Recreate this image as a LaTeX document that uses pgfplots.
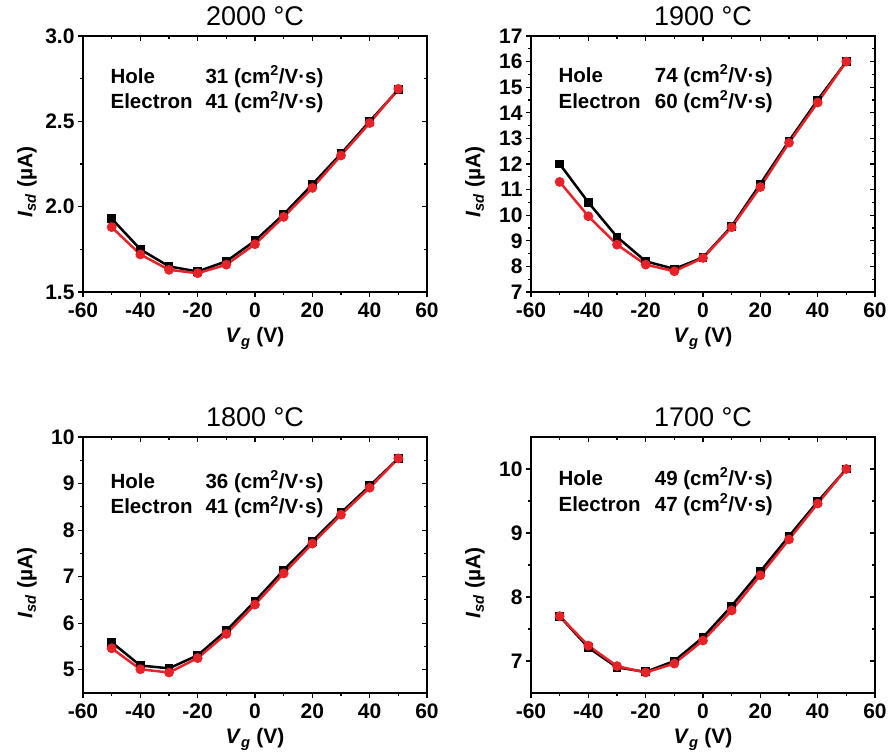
\documentclass[border=0pt]{standalone}
\usepackage{fontspec}
\setmainfont{Liberation Sans}
\usepackage{pgfplots}
\pgfplotsset{compat=1.18}
\definecolor{myred}{RGB}{230,35,40}
\pgfplotsset{
 common/.style={scale only axis, width=344bp, height=256bp, xmin=-60, xmax=60,
   xtick={-60,-40,...,60}, minor x tick num=1, minor y tick num=1,
   major tick length=5bp, minor tick length=2.6bp,
   tick style={black, line width=1.1bp}, axis line style={line width=1.3bp}},
 mainax/.style={common, tick align=outside, xtick pos=left, ytick pos=left,
   ticklabel style={font=\fontsize{21bp}{25bp}\selectfont\bfseries},
   xticklabel style={inner xsep=0pt, yshift=-2bp},
   /pgf/number format/assume math mode=true,
   xlabel={\textit{V}\textsubscript{\textit{g}} (V)},
   ylabel={\textit{I}\textsubscript{\textit{sd}} (µA)},
   label style={font=\fontsize{21bp}{25bp}\selectfont\bfseries},
   xlabel style={at={(axis description cs:0.5,-0.199)}, anchor=base},
   ylabel style={at={(axis description cs:-0.163,0.43)}, anchor=center},
   title style={at={(axis description cs:0.5,1.016)}, anchor=base, font=\fontsize{27bp}{31bp}\selectfont}},
 mirrorax/.style={common, tick align=inside, xtick pos=right, ytick pos=right,
   xticklabels={}, yticklabels={}, axis line style={draw=none}},
 blk/.style={black, line width=2.5bp, mark=square*, mark size=3.2bp, mark options={solid}},
 rd/.style={myred, line width=2.5bp, mark=*, mark size=3.6bp, mark options={solid}},
 pA/.style={ymin=1.5, ymax=3.0, ytick={1.5,2.0,2.5,3.0},
   yticklabel style={/pgf/number format/.cd, fixed, fixed zerofill, precision=1}},
 pB/.style={ymin=7, ymax=17, ytick={7,8,...,17}},
 pC/.style={ymin=4.5, ymax=10, ytick={5,6,...,10}},
 pD/.style={ymin=6.5, ymax=10.5, ytick={7,8,9,10}},
}
\newcommand{\inset}[5]{%
 \node[anchor=base west, font=\fontsize{20.5bp}{24bp}\selectfont\bfseries] at (rel axis cs:0.07,#1) {Hole};
 \node[anchor=base west, font=\fontsize{20.5bp}{24bp}\selectfont\bfseries] at (rel axis cs:#5,#1) {#3 (cm\textsuperscript{2}/V·s)};
 \node[anchor=base west, font=\fontsize{20.5bp}{24bp}\selectfont\bfseries] at (rel axis cs:0.07,#2) {Electron};
 \node[anchor=base west, font=\fontsize{20.5bp}{24bp}\selectfont\bfseries] at (rel axis cs:#5,#2) {#4 (cm\textsuperscript{2}/V·s)};
}
\begin{document}
\begin{tikzpicture}
\path[use as bounding box] (0,0) rectangle (890bp,756bp);
% Panel 1: 2000 C
\begin{axis}[mainax, pA, at={(83bp,464bp)}, anchor=south west, title={2000 °C}]
\addplot[blk] coordinates {(-50,1.93) (-40,1.75) (-30,1.65) (-20,1.62) (-10,1.68) (0,1.80) (10,1.955) (20,2.13) (30,2.31) (40,2.50) (50,2.685)};
\addplot[rd] coordinates {(-50,1.88) (-40,1.72) (-30,1.63) (-20,1.61) (-10,1.66) (0,1.78) (10,1.94) (20,2.11) (30,2.30) (40,2.49) (50,2.69)};
\inset{0.816}{0.715}{31}{41}{0.346}
\end{axis}
\begin{axis}[mirrorax, pA, at={(83bp,464bp)}, anchor=south west]
\end{axis}
% Panel 2: 1900 C
\begin{axis}[mainax, pB, at={(531bp,464bp)}, anchor=south west, title={1900 °C}]
\addplot[blk] coordinates {(-50,12.0) (-40,10.5) (-30,9.15) (-20,8.2) (-10,7.9) (0,8.35) (10,9.57) (20,11.22) (30,12.9) (40,14.5) (50,16.0)};
\addplot[rd] coordinates {(-50,11.3) (-40,9.96) (-30,8.85) (-20,8.07) (-10,7.81) (0,8.33) (10,9.53) (20,11.1) (30,12.83) (40,14.4) (50,16.0)};
\inset{0.82}{0.718}{74}{60}{0.35}
\end{axis}
\begin{axis}[mirrorax, pB, at={(531bp,464bp)}, anchor=south west]
\end{axis}
% Panel 3: 1800 C
\begin{axis}[mainax, pC, at={(83bp,63bp)}, anchor=south west, title={1800 °C}]
\addplot[blk] coordinates {(-50,5.59) (-40,5.09) (-30,5.03) (-20,5.31) (-10,5.84) (0,6.47) (10,7.14) (20,7.76) (30,8.37) (40,8.95) (50,9.54)};
\addplot[rd] coordinates {(-50,5.46) (-40,5.01) (-30,4.94) (-20,5.25) (-10,5.77) (0,6.40) (10,7.07) (20,7.71) (30,8.33) (40,8.91) (50,9.54)};
\inset{0.80}{0.70}{36}{41}{0.346}
\end{axis}
\begin{axis}[mirrorax, pC, at={(83bp,63bp)}, anchor=south west]
\end{axis}
% Panel 4: 1700 C
\begin{axis}[mainax, pD, at={(531bp,63bp)}, anchor=south west, title={1700 °C}]
\addplot[blk] coordinates {(-50,7.70) (-40,7.21) (-30,6.90) (-20,6.83) (-10,7.0) (0,7.37) (10,7.86) (20,8.40) (30,8.95) (40,9.49) (50,10.0)};
\addplot[rd] coordinates {(-50,7.70) (-40,7.24) (-30,6.92) (-20,6.82) (-10,6.96) (0,7.32) (10,7.79) (20,8.34) (30,8.90) (40,9.46) (50,10.0)};
\inset{0.811}{0.709}{49}{47}{0.35}
\end{axis}
\begin{axis}[mirrorax, pD, at={(531bp,63bp)}, anchor=south west]
\end{axis}
\end{tikzpicture}
\end{document}
